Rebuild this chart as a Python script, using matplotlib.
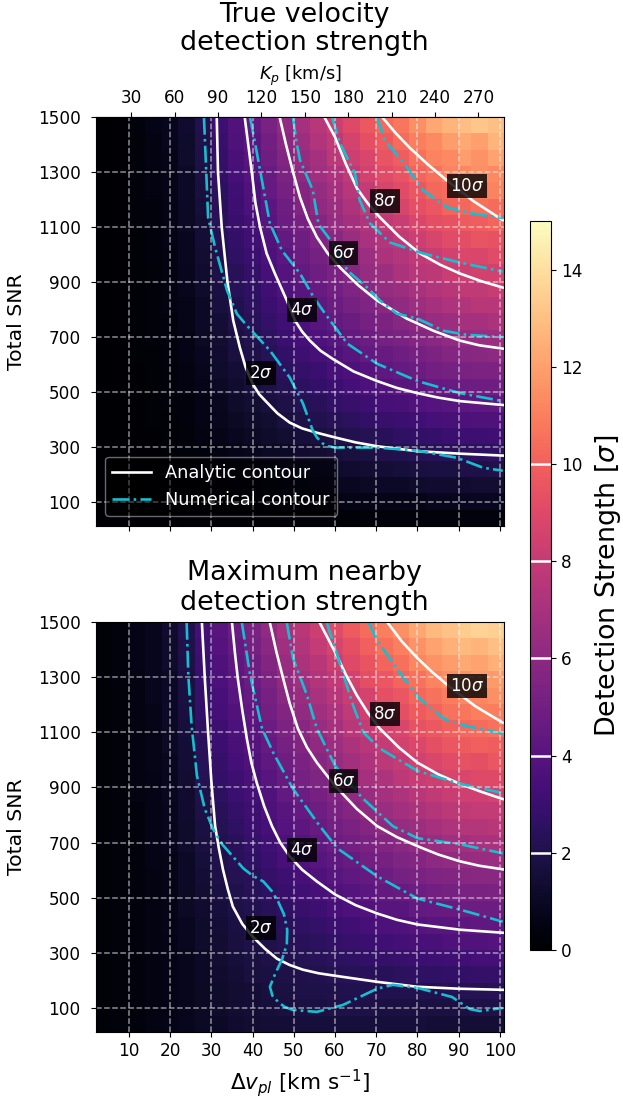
import numpy as np
import matplotlib
matplotlib.use("Agg")
import matplotlib.pyplot as plt

# Heatmap values: a coarse 25x25 hand-read table of local levels (row 0 = top of panel).
dv_edges = [2, 6, 10, 14, 18, 22, 26, 30, 34, 38, 42, 46, 50, 54, 58, 62, 66, 70, 74, 78, 82, 86, 90, 93, 97, 101]
snr_edges = [13, 72, 132, 191, 251, 310, 370, 429, 489, 548, 608, 667, 727, 786, 846, 905, 965, 1024, 1084, 1143, 1203, 1262, 1322, 1381, 1441, 1500]
true_strength = [
 [.0,.1,.4,.6,.8,1.3,2.1,3.1,3.8,4.4,5.3,6.2,6.9,7.5,8.3,9.0,9.7,10.3,10.7,11.5,12.2,12.6,12.9,13.2,13.0],
 [.0,.1,.3,.5,.8,1.2,2.0,2.9,3.7,4.2,5.0,5.9,6.6,7.3,7.9,8.6,9.3,9.8,10.4,11.0,11.3,11.9,12.3,12.0,12.6],
 [.0,.1,.3,.5,.7,1.2,1.9,2.8,3.5,4.1,4.9,5.6,6.3,6.9,7.7,8.3,8.8,9.5,9.9,10.5,11.1,11.3,11.9,11.6,12.1],
 [.0,.1,.3,.5,.7,1.1,1.8,2.7,3.4,3.9,4.6,5.4,6.1,6.7,7.2,7.9,8.5,9.1,9.5,10.1,10.5,11.1,11.2,11.5,11.3],
 [.0,.1,.3,.5,.7,1.1,1.7,2.5,3.2,3.7,4.5,5.2,5.7,6.3,6.9,7.6,8.0,8.7,9.1,9.6,10.2,10.4,10.9,10.8,11.1],
 [.0,.1,.3,.4,.6,1.0,1.6,2.4,3.1,3.6,4.2,4.9,5.5,6.1,6.6,7.2,7.8,8.2,8.7,9.3,9.6,10.1,10.2,10.5,10.4],
 [.0,.1,.3,.4,.6,1.0,1.5,2.3,2.9,3.3,4.0,4.7,5.2,5.7,6.3,6.8,7.3,7.9,8.2,8.8,9.2,9.4,9.8,9.9,10.1],
 [.0,.1,.2,.4,.6,.9,1.5,2.2,2.7,3.2,3.8,4.4,4.9,5.5,5.9,6.5,7.0,7.4,7.8,8.3,8.7,9.1,9.2,9.5,9.4],
 [.0,.1,.2,.4,.5,.9,1.4,2.0,2.6,3.0,3.6,4.2,4.7,5.1,5.7,6.1,6.6,7.1,7.4,7.9,8.2,8.5,8.9,8.8,9.1],
 [.0,.1,.2,.3,.5,.8,1.3,1.9,2.4,2.8,3.4,3.9,4.4,4.9,5.3,5.8,6.3,6.6,7.1,7.5,7.7,8.2,8.3,8.5,8.5],
 [.0,.1,.2,.3,.5,.8,1.2,1.8,2.3,2.6,3.2,3.7,4.1,4.6,5.0,5.5,5.8,6.3,6.6,7.0,7.3,7.6,7.9,7.9,8.1],
 [.0,.1,.2,.3,.5,.7,1.1,1.7,2.1,2.5,3.0,3.4,3.9,4.3,4.7,5.1,5.5,5.9,6.2,6.6,6.9,7.2,7.3,7.5,7.5],
 [.0,.1,.2,.3,.4,.7,1.1,1.5,2.0,2.3,2.8,3.2,3.6,4.0,4.4,4.7,5.2,5.4,5.8,6.1,6.4,6.6,6.9,6.9,7.1],
 [.0,.1,.2,.3,.4,.6,1.0,1.4,1.8,2.1,2.5,3.0,3.3,3.7,4.0,4.4,4.7,5.1,5.3,5.7,5.9,6.2,6.3,6.5,6.5],
 [.0,.1,.2,.2,.4,.6,.9,1.3,1.7,1.9,2.3,2.7,3.1,3.4,3.7,4.0,4.4,4.6,4.9,5.2,5.4,5.7,5.8,5.9,6.0],
 [.0,.1,.1,.2,.3,.5,.8,1.2,1.5,1.8,2.1,2.5,2.8,3.0,3.4,3.6,3.9,4.3,4.5,4.7,5.0,5.1,5.3,5.4,5.4],
 [.0,.1,.1,.2,.3,.5,.7,1.0,1.3,1.6,1.9,2.2,2.5,2.7,3.0,3.3,3.6,3.8,4.0,4.2,4.5,4.6,4.8,4.8,4.9],
 [.0,.0,.1,.2,.3,.4,.6,.9,1.2,1.4,1.7,1.9,2.2,2.4,2.7,2.9,3.1,3.4,3.5,3.8,3.9,4.1,4.2,4.3,4.3],
 [.0,.0,.1,.2,.2,.4,.6,.8,1.0,1.2,1.4,1.7,1.9,2.1,2.3,2.5,2.7,2.9,3.0,3.2,3.4,3.5,3.6,3.7,3.7],
 [.0,.0,.1,.1,.2,.3,.5,.7,.9,1.0,1.2,1.4,1.6,1.7,1.9,2.1,2.2,2.4,2.6,2.7,2.8,3.0,3.1,3.1,3.2],
 [.0,.0,.1,.1,.2,.3,.4,.5,.7,.8,1.0,1.1,1.3,1.4,1.6,1.7,1.8,2.0,2.1,2.2,2.3,2.4,2.5,2.5,2.6],
 [.0,.0,.1,.1,.1,.2,.3,.4,.5,.6,.7,.9,1.0,1.1,1.2,1.3,1.4,1.5,1.6,1.7,1.8,1.8,1.9,1.9,2.0],
 [.0,.0,.0,.1,.1,.2,.2,.3,.4,.4,.5,.6,.7,.8,.9,.9,1.0,1.1,1.1,1.2,1.3,1.3,1.3,1.4,1.4],
 [.0,.0,.0,.0,.1,.1,.1,.2,.2,.3,.3,.4,.4,.5,.5,.6,.6,.7,.7,.7,.8,.8,.9,.9,.9],
 [.0,.0,.0,.0,.0,.1,.1,.1,.1,.1,.1,.2,.2,.2,.2,.2,.3,.3,.3,.3,.3,.3,.4,.4,.4],
]
max_strength = [
 [.2,.4,.6,.8,1.3,2.1,3.3,4.1,4.7,5.3,6.2,7.0,7.6,8.3,9.1,9.8,10.4,11.0,11.5,12.2,12.8,13.1,13.4,13.6,13.5],
 [.2,.4,.6,.8,1.2,2.0,3.2,3.9,4.5,5.1,5.9,6.7,7.3,8.0,8.7,9.3,10.0,10.5,11.0,11.6,12.1,12.5,12.8,12.6,13.0],
 [.2,.4,.6,.8,1.2,1.9,3.0,3.7,4.3,4.9,5.6,6.4,7.1,7.6,8.3,9.0,9.5,10.1,10.5,11.2,11.6,11.9,12.3,12.1,12.5],
 [.2,.4,.5,.8,1.1,1.8,2.9,3.6,4.2,4.7,5.4,6.2,6.7,7.3,7.9,8.5,9.2,9.6,10.1,10.6,11.1,11.5,11.6,11.9,11.8],
 [.2,.3,.5,.8,1.1,1.8,2.8,3.4,4.0,4.5,5.2,5.9,6.4,7.0,7.6,8.2,8.6,9.3,9.6,10.2,10.6,10.9,11.3,11.2,11.5],
 [.2,.3,.5,.7,1.1,1.7,2.7,3.3,3.8,4.3,5.0,5.6,6.2,6.7,7.2,7.8,8.4,8.8,9.3,9.8,10.1,10.6,10.7,11.0,10.9],
 [.2,.3,.5,.7,1.0,1.6,2.5,3.1,3.6,4.1,4.7,5.4,5.8,6.4,6.9,7.5,8.0,8.5,8.8,9.4,9.7,10.0,10.3,10.4,10.6],
 [.2,.3,.5,.7,1.0,1.5,2.4,3.0,3.5,3.9,4.5,5.1,5.6,6.1,6.6,7.1,7.6,8.0,8.5,8.9,9.3,9.6,9.8,10.0,9.9],
 [.2,.3,.5,.7,.9,1.5,2.3,2.8,3.3,3.7,4.3,4.9,5.3,5.8,6.3,6.8,7.2,7.7,8.0,8.5,8.8,9.1,9.4,9.3,9.6],
 [.2,.3,.5,.6,.9,1.4,2.2,2.7,3.1,3.5,4.1,4.6,5.1,5.5,5.9,6.4,6.9,7.2,7.7,8.1,8.3,8.7,8.8,9.0,9.0],
 [.2,.3,.5,.6,.9,1.3,2.0,2.5,3.0,3.3,3.8,4.4,4.8,5.2,5.6,6.1,6.4,6.9,7.2,7.6,7.9,8.2,8.4,8.4,8.6],
 [.2,.3,.4,.6,.8,1.3,1.9,2.4,2.8,3.1,3.6,4.1,4.5,4.9,5.3,5.7,6.1,6.5,6.8,7.1,7.4,7.7,7.9,8.0,8.0],
 [.2,.3,.4,.6,.8,1.2,1.8,2.2,2.6,3.0,3.4,3.9,4.2,4.6,5.0,5.3,5.7,6.0,6.3,6.6,6.9,7.2,7.4,7.4,7.6],
 [.2,.3,.4,.6,.8,1.2,1.7,2.1,2.4,2.8,3.2,3.6,3.9,4.3,4.7,5.0,5.3,5.6,5.9,6.2,6.4,6.7,6.8,7.0,7.0],
 [.2,.3,.4,.6,.7,1.1,1.6,2.0,2.3,2.6,3.0,3.4,3.7,4.0,4.3,4.6,5.0,5.2,5.5,5.7,6.0,6.2,6.3,6.4,6.5],
 [.2,.3,.4,.5,.7,1.1,1.5,1.9,2.2,2.4,2.8,3.1,3.4,3.7,4.0,4.3,4.5,4.8,5.1,5.3,5.5,5.6,5.8,5.9,5.9],
 [.2,.3,.4,.5,.7,1.0,1.4,1.8,2.0,2.3,2.6,2.9,3.2,3.4,3.7,3.9,4.2,4.4,4.6,4.8,5.0,5.1,5.3,5.3,5.4],
 [.2,.3,.4,.5,.7,1.0,1.3,1.6,1.9,2.1,2.4,2.6,2.9,3.1,3.4,3.6,3.8,4.0,4.1,4.4,4.5,4.6,4.8,4.8,4.8],
 [.2,.3,.4,.5,.7,.9,1.2,1.5,1.8,2.0,2.2,2.4,2.6,2.8,3.0,3.2,3.4,3.6,3.7,3.9,4.0,4.1,4.2,4.3,4.3],
 [.2,.3,.4,.5,.6,.9,1.2,1.4,1.7,1.9,2.0,2.2,2.4,2.5,2.7,2.9,3.0,3.2,3.3,3.5,3.5,3.7,3.8,3.8,3.9],
 [.2,.3,.4,.5,.6,.8,1.1,1.4,1.6,1.8,1.9,2.1,2.2,2.3,2.5,2.6,2.7,2.8,2.9,3.0,3.1,3.2,3.2,3.3,3.3],
 [.2,.3,.4,.5,.6,.8,1.1,1.3,1.5,1.7,1.8,1.9,2.0,2.1,2.2,2.3,2.4,2.4,2.5,2.6,2.6,2.7,2.7,2.8,2.8],
 [.2,.3,.4,.5,.6,.8,1.0,1.2,1.4,1.5,1.7,1.8,1.9,1.9,2.0,2.1,2.1,2.1,2.1,2.1,2.1,2.2,2.2,2.2,2.3],
 [.2,.3,.4,.5,.6,.8,1.0,1.2,1.4,1.5,1.6,1.7,1.8,1.8,1.9,1.9,1.9,1.8,1.8,1.8,1.8,1.8,1.8,1.9,1.9],
 [.2,.3,.4,.5,.6,.8,1.0,1.1,1.3,1.4,1.5,1.5,1.6,1.6,1.6,1.6,1.6,1.6,1.6,1.6,1.5,1.5,1.5,1.5,1.5],
]

# Contours: (delta v, total SNR)
top_analytic = {
 2: ([31.3,31.6,32.5,33.9,35.3,36.9,38.3,40,41.6,43.5,46,49,52,55.6,60,65,70.2,80,90.3,100.7],
     [1497,1300,1100,900,760,662,590,530,492,462,423,389,368,352,335,317,303,285,276,269]),
 4: ([38.1,39.8,40.7,41.8,43.4,45.4,48.3,50.3,52,53.9,56.5,59.5,64.5,70.2,75,80,85,90.3,100.7],
     [1497,1300,1186,1100,1004,931,833,760,720,687,650,620,575,540,515,496,480,467,453]),
 6: ([46.6,48.1,49.8,51.5,53.4,55.6,58.2,61.2,65.5,70.2,74,77.4,84,90.3,95,100.7],
     [1497,1400,1300,1208,1130,1063,1005,953,890,833,798,767,722,687,670,658]),
 8: ([57.5,60,62.6,65.3,68,70.9,75.5,80.6,85.5,90.3,95.5,100.7],
     [1497,1427,1330,1241,1185,1135,1066,1004,963,931,903,880]),
 10: ([71.6,74.8,78.2,82.5,87.1,93.5,100.7],
      [1497,1440,1387,1328,1270,1195,1125]),
}
top_numeric = {
 2: ([28.2,28.7,29.2,30.9,33.8,36.2,38.6,44.2,49,52.2,54.6,55.6,57,58.5,60,70.2,80,89.6,95.9,100.7],
     [1497,1318,1135,1026,869,784,742,651,553,459,360,335,313,303,298,298,287,261,225,214]),
 4: ([39.4,40.6,41.8,44.2,47.1,51.5,55,58.8,63,70.2,80,90.3,100.7],
     [1497,1405,1307,1113,1015,931,840,760,676,603,540,496,467]),
 6: ([49.8,50.7,51.5,54.6,56,59.5,63,67.8,70.9,75,80,86.3,92,100.7],
     [1497,1405,1343,1234,1110,1040,942,880,833,785,767,723,708,700]),
 8: ([59.3,61.2,64.8,66,68.5,73.3,81.3,90.3,100.7],
     [1497,1405,1296,1197,1113,1044,1004,971,938]),
 10: ([70.2,72.1,77.4,81.3,87.1,93,100.7],
      [1497,1416,1318,1234,1172,1150,1132]),
}
bot_analytic = {
 2: ([27.7,28.4,29.2,30,30.9,31.8,32.8,34,35.2,37.5,40,43,45.9,49,52.2,56,60,70.2,80,90,100.7],
     [1497,1296,1099,920,760,680,603,530,468,405,359,315,279,256,239,226,217,195,177,170,166]),
 4: ([35,35.7,36.4,37.5,38.6,39.7,41,42.8,44.7,46.7,49,52,55.6,60,65,70.2,75,80,90.3,100.7],
     [1497,1390,1296,1180,1077,990,917,832,760,700,650,602,559,512,473,443,420,403,384,373]),
 6: ([44.2,45.8,47.4,49,51,53.2,55.6,60,65.3,70.2,75,80,85,90.3,95,100.7],
     [1497,1390,1296,1205,1113,1045,990,906,822,760,720,687,657,632,616,603]),
 8: ([56.3,60,62.6,65.3,68,70.9,75.5,80,85,90.3,95.5,100.7],
     [1497,1391,1310,1234,1170,1113,1045,990,948,913,884,858]),
 10: ([72.8,76.3,80,83.6,87.4,94,100.7],
      [1497,1428,1369,1318,1270,1195,1135]),
}
bot_numeric = {
 2: ([24,24.4,25.2,26.5,28.4,30.4,32.6,37.7,40,42.6,44.6,46.2,47.6,48.4,48.3,47.1,45.5,44.2,44.8,46.2,47.8,49.8,55.6,61.9,70.2,74,80,88.4,92.7,95.1,100.7],
     [1497,1307,1124,942,822,749,694,607,580,559,525,486,440,384,330,275,225,177,145,122,104,93,86,111,170,184,173,140,96,89,100]),
 4: ([37.4,39.4,42.3,45,49.8,56.3,60.5,70.2,80,90.3,100.7],
     [1497,1307,1113,1026,895,760,680,578,497,457,413]),
 6: ([48.3,49.8,53.2,55.6,60,66.6,74,80,90.3,100.7],
     [1497,1369,1234,1113,979,862,760,716,694,661]),
 8: ([58,60,64.4,66.9,70.9,80,90.3,100.7],
     [1497,1405,1197,1099,1041,960,913,880]),
 10: ([68.2,70.2,75.8,80.2,86.3,90.3,100.7],
      [1497,1434,1314,1227,1150,1128,1095]),
}
top_labels = {2: (42, 570), 4: (52, 800), 6: (62, 1004), 8: (72.1, 1193), 10: (92, 1248)}
bot_labels = {2: (42, 392), 4: (52, 672), 6: (62, 924), 8: (72.1, 1165), 10: (92, 1267)}

x_ticks = list(range(10, 101, 10))
y_ticks = list(range(100, 1501, 200))
kp_ticks = list(range(30, 271, 30))
cbar_ticks = list(range(0, 15, 2))
cbar_lines = [2, 4, 6, 8, 10]
KP_PER_DV = 2.848

W, H = 623, 1097
fig = plt.figure(figsize=(W / 100, H / 100), dpi=100)
TICK = 12.2
CYAN = "#17becf"


def make_panel(top_px, bottom_px, values, analytic, numeric, labels):
    ax = fig.add_axes([96 / W, 1 - bottom_px / H, 408 / W, (bottom_px - top_px) / H])
    m = ax.pcolormesh(dv_edges, snr_edges, np.array(values)[::-1], cmap="magma", vmin=0, vmax=15)
    for k in analytic:
        ax.plot(*analytic[k], color="white", lw=1.9,
                label="Analytic contour" if k == 2 else None)
    for k in numeric:
        ax.plot(*numeric[k], color=CYAN, lw=1.9, ls="-.",
                label="Numerical contour" if k == 2 else None)
    for k, (x, y) in labels.items():
        ax.text(x, y, f"{k}$\\sigma$", color="white", fontsize=12, ha="center", va="center",
                bbox=dict(facecolor="black", edgecolor="none", alpha=0.8, pad=2.2), zorder=6)
    ax.grid(True, color="white", ls="--", lw=1.1, alpha=0.55)
    ax.set_axisbelow(False)
    ax.set_xlim(2, 101)
    ax.set_ylim(13, 1500)
    ax.set_xticks(x_ticks)
    ax.set_yticks(y_ticks)
    ax.tick_params(labelsize=TICK)
    ax.tick_params(axis="y", pad=7.5)
    for s in ax.spines.values():
        s.set_zorder(5)
    ax.set_ylabel("Total SNR", fontsize=14.7, va="center")
    ax.yaxis.set_label_coords(-(96 - 17) / 408, 0.5)
    return ax, m


ax1, mesh = make_panel(117, 526, true_strength, top_analytic, top_numeric, top_labels)
ax2, _ = make_panel(622, 1032, max_strength, bot_analytic, bot_numeric, bot_labels)
ax1.tick_params(labelbottom=False)
ax2.set_xlabel(r"$\Delta v_{pl}$ [km s$^{-1}$]", fontsize=15.5, va="center")
ax2.xaxis.set_label_coords(0.5, -(1083 - 1032) / 410)

sec = ax1.secondary_xaxis("top", functions=(lambda v: v * KP_PER_DV, lambda k: k / KP_PER_DV))
sec.set_xticks(kp_ticks)
sec.tick_params(labelsize=TICK)
sec.set_xlabel(r"$K_p$ [km/s]", fontsize=12.8, labelpad=7)

fig.text(304 / W, 1 - 29 / H, "True velocity\ndetection strength", fontsize=19.4,
         ha="center", va="center", linespacing=1.15)
fig.text(304 / W, 1 - 588 / H, "Maximum nearby\ndetection strength", fontsize=19.4,
         ha="center", va="center", linespacing=1.15)

leg = ax1.legend(loc="lower left", bbox_to_anchor=(105 / W, 1 - 516 / H), bbox_transform=fig.transFigure,
                 borderaxespad=0, fontsize=12.8, facecolor="black", edgecolor="lightgray",
                 framealpha=0.5, labelcolor="white", handlelength=2.2)
leg.set_zorder(7)

cax = fig.add_axes([530 / W, 1 - 950 / H, 21 / W, 729 / H])
cb = fig.colorbar(mesh, cax=cax, ticks=cbar_ticks)
cb.ax.tick_params(labelsize=TICK)
cb.set_label(r"Detection Strength [$\sigma$]", fontsize=19.4, va="center")
cax.yaxis.set_label_coords((608 - 530) / 21, 0.5)
for v in cbar_lines:
    cax.axhline(v, color="white", lw=1.8)

fig.savefig("out.png", dpi=100)
